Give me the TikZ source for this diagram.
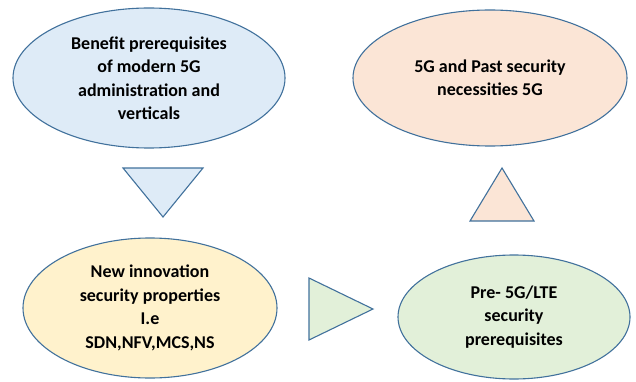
\documentclass[tikz,border=0pt]{standalone}
\usepackage{fontspec}
\setmainfont{Carlito}
\usetikzlibrary{shapes.geometric}
\definecolor{edgeblue}{HTML}{41719C}
\definecolor{fillblue}{HTML}{DEEBF7}
\definecolor{fillorange}{HTML}{FBE5D6}
\definecolor{fillyellow}{HTML}{FFF2CC}
\definecolor{fillgreen}{HTML}{E2F0D9}
\tikzset{
  bubble/.style={ellipse,draw=edgeblue,line width=1.1pt,inner sep=0pt,align=center,
    font=\bfseries\fontsize{18}{23.5}\selectfont},
  pointer/.style={draw=edgeblue,line width=1.1pt,line join=miter}
}
\begin{document}
\begin{tikzpicture}[x=1pt,y=-1pt]
\useasboundingbox (0,0) rectangle (636,382);

\node[bubble,fill=fillblue,minimum width=272pt,minimum height=140pt] (benefit) at (149,78)
  {Benefit prerequisites\\of modern 5G\\administration and\\verticals};
\node[bubble,fill=fillorange,minimum width=274pt,minimum height=136pt] (past) at (490,78)
  {5G and Past security\\necessities 5G};
\node[bubble,fill=fillyellow,minimum width=254pt,minimum height=140pt] (innov) at (150,308)
  {New innovation\\security properties\\I.e\\SDN,NFV,MCS,NS};
\node[bubble,fill=fillgreen,minimum width=232pt,minimum height=124pt] (pre) at (514,317)
  {Pre- 5G/LTE\\security\\prerequisites};

% pointers between the bubbles
\draw[pointer,fill=fillblue] (123,168) -- (203,168) -- (163,217) -- cycle;
\draw[pointer,fill=fillgreen] (309,278) -- (373,309) -- (309,340) -- cycle;
\draw[pointer,fill=fillorange] (470,221) -- (502,168) -- (534,221) -- cycle;
\end{tikzpicture}
\end{document}
